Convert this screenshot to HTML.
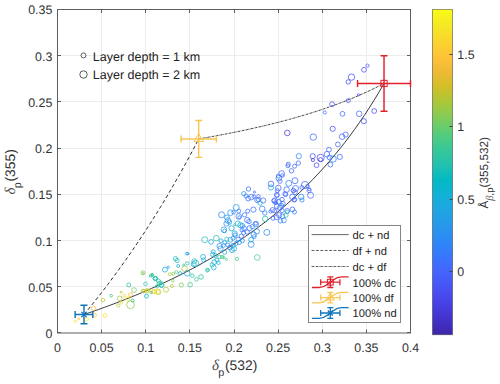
<!DOCTYPE html>
<html><head><meta charset="utf-8"><title>chart</title><style>html,body{margin:0;padding:0;background:#fff;overflow:hidden}svg{display:block;position:absolute;left:0;top:0}</style></head><body>
<svg width="500" height="384" viewBox="0 0 500 384" font-family="Liberation Sans, sans-serif" text-rendering="geometricPrecision">
<defs><linearGradient id="cb" x1="0" y1="1" x2="0" y2="0">
<stop offset="0.0000" stop-color="#3e26a8"/>
<stop offset="0.0476" stop-color="#4332cb"/>
<stop offset="0.0952" stop-color="#4741e5"/>
<stop offset="0.1429" stop-color="#4852f4"/>
<stop offset="0.1905" stop-color="#4563fd"/>
<stop offset="0.2381" stop-color="#3875fe"/>
<stop offset="0.2857" stop-color="#2e87f7"/>
<stop offset="0.3333" stop-color="#2797eb"/>
<stop offset="0.3810" stop-color="#20a5e3"/>
<stop offset="0.4286" stop-color="#12b1d6"/>
<stop offset="0.4762" stop-color="#02bac3"/>
<stop offset="0.5238" stop-color="#24c1ae"/>
<stop offset="0.5714" stop-color="#37c897"/>
<stop offset="0.6190" stop-color="#57cc7a"/>
<stop offset="0.6667" stop-color="#81cc59"/>
<stop offset="0.7143" stop-color="#abc739"/>
<stop offset="0.7619" stop-color="#d1bf27"/>
<stop offset="0.8095" stop-color="#f0ba36"/>
<stop offset="0.8571" stop-color="#fec338"/>
<stop offset="0.9048" stop-color="#fad62d"/>
<stop offset="0.9524" stop-color="#f5e924"/>
<stop offset="1.0000" stop-color="#f9fb15"/>
<stop offset="1" stop-color="#f9fb15"/>
</linearGradient><clipPath id="ax"><rect x="57.5" y="9.5" width="353.0" height="323.5"/></clipPath></defs>
<rect width="500" height="384" fill="#fff"/>
<line x1="101.5" y1="9.5" x2="101.5" y2="333.0" stroke="#ececec" stroke-width="1"/>
<line x1="145.5" y1="9.5" x2="145.5" y2="333.0" stroke="#ececec" stroke-width="1"/>
<line x1="189.5" y1="9.5" x2="189.5" y2="333.0" stroke="#ececec" stroke-width="1"/>
<line x1="234.5" y1="9.5" x2="234.5" y2="333.0" stroke="#ececec" stroke-width="1"/>
<line x1="278.5" y1="9.5" x2="278.5" y2="333.0" stroke="#ececec" stroke-width="1"/>
<line x1="322.5" y1="9.5" x2="322.5" y2="333.0" stroke="#ececec" stroke-width="1"/>
<line x1="366.5" y1="9.5" x2="366.5" y2="333.0" stroke="#ececec" stroke-width="1"/>
<line x1="57.5" y1="286.5" x2="410.5" y2="286.5" stroke="#ececec" stroke-width="1"/>
<line x1="57.5" y1="240.5" x2="410.5" y2="240.5" stroke="#ececec" stroke-width="1"/>
<line x1="57.5" y1="194.5" x2="410.5" y2="194.5" stroke="#ececec" stroke-width="1"/>
<line x1="57.5" y1="148.5" x2="410.5" y2="148.5" stroke="#ececec" stroke-width="1"/>
<line x1="57.5" y1="101.5" x2="410.5" y2="101.5" stroke="#ececec" stroke-width="1"/>
<line x1="57.5" y1="55.5" x2="410.5" y2="55.5" stroke="#ececec" stroke-width="1"/>
<g clip-path="url(#ax)" fill="none">
<path d="M83.97 314.51 L86.84 313.54 L89.72 312.55 L92.62 311.55 L95.54 310.53 L98.48 309.48 L101.44 308.43 L104.41 307.35 L107.41 306.25 L110.42 305.13 L113.46 303.99 L116.51 302.83 L119.58 301.65 L122.68 300.44 L125.79 299.21 L128.93 297.96 L132.08 296.68 L135.26 295.38 L138.45 294.05 L141.67 292.69 L144.91 291.31 L148.18 289.90 L151.46 288.46 L154.77 286.99 L158.10 285.48 L161.45 283.95 L164.82 282.38 L168.22 280.77 L171.64 279.14 L175.09 277.46 L178.55 275.74 L182.05 273.99 L185.56 272.20 L189.11 270.36 L192.67 268.48 L196.26 266.55 L199.88 264.58 L203.52 262.56 L207.19 260.48 L210.89 258.36 L214.61 256.18 L218.36 253.94 L222.14 251.64 L225.94 249.29 L229.77 246.86 L233.63 244.38 L237.52 241.82 L241.43 239.19 L245.38 236.48 L249.35 233.70 L253.36 230.83 L257.39 227.88 L261.45 224.84 L265.55 221.71 L269.67 218.47 L273.83 215.14 L278.02 211.69 L282.24 208.13 L286.49 204.46 L290.78 200.65 L295.10 196.72 L299.45 192.65 L303.84 188.43 L308.26 184.06 L312.72 179.52 L317.21 174.82 L321.73 169.93 L326.30 164.85 L330.90 159.56 L335.53 154.06 L340.21 148.33 L344.92 142.35 L349.67 136.11 L354.46 129.60 L359.28 122.78 L364.15 115.65 L369.06 108.18 L374.01 100.34 L378.99 92.10 L384.02 83.44" stroke="#222" stroke-width="0.9"/>
<path d="M83.97 314.51 L85.27 312.95 L86.56 311.38 L87.86 309.79 L89.16 308.20 L90.47 306.59 L91.78 304.96 L93.09 303.33 L94.41 301.68 L95.73 300.02 L97.06 298.35 L98.38 296.66 L99.72 294.96 L101.05 293.24 L102.39 291.52 L103.74 289.77 L105.09 288.02 L106.44 286.25 L107.79 284.46 L109.15 282.66 L110.52 280.85 L111.89 279.02 L113.26 277.17 L114.63 275.31 L116.01 273.44 L117.40 271.55 L118.79 269.64 L120.18 267.72 L121.57 265.78 L122.97 263.82 L124.38 261.85 L125.79 259.86 L127.20 257.85 L128.62 255.83 L130.04 253.78 L131.46 251.72 L132.89 249.64 L134.33 247.55 L135.77 245.43 L137.21 243.30 L138.66 241.14 L140.11 238.97 L141.56 236.78 L143.02 234.57 L144.49 232.33 L145.96 230.08 L147.43 227.81 L148.91 225.51 L150.39 223.19 L151.88 220.86 L153.37 218.50 L154.87 216.11 L156.37 213.71 L157.87 211.28 L159.38 208.83 L160.90 206.36 L162.42 203.86 L163.94 201.33 L165.47 198.79 L167.00 196.21 L168.54 193.62 L170.08 190.99 L171.63 188.34 L173.18 185.67 L174.74 182.97 L176.30 180.24 L177.87 177.48 L179.44 174.69 L181.02 171.88 L182.60 169.03 L184.19 166.16 L185.78 163.26 L187.38 160.33 L188.98 157.36 L190.59 154.37 L192.20 151.34 L193.82 148.28 L195.44 145.19 L197.07 142.06 L198.70 138.90" stroke="#1a1a1a" stroke-width="0.95" stroke-dasharray="3.6 2.6"/>
<path d="M198.70 138.90 L200.69 138.56 L202.69 138.22 L204.69 137.87 L206.71 137.51 L208.73 137.15 L210.76 136.79 L212.80 136.42 L214.84 136.05 L216.89 135.67 L218.96 135.29 L221.03 134.90 L223.10 134.50 L225.19 134.10 L227.28 133.69 L229.39 133.28 L231.50 132.86 L233.62 132.44 L235.75 132.01 L237.88 131.57 L240.03 131.12 L242.18 130.67 L244.35 130.21 L246.52 129.75 L248.70 129.28 L250.89 128.80 L253.09 128.31 L255.29 127.82 L257.51 127.31 L259.74 126.80 L261.97 126.28 L264.22 125.75 L266.47 125.22 L268.73 124.67 L271.00 124.12 L273.29 123.55 L275.58 122.98 L277.88 122.39 L280.19 121.80 L282.51 121.19 L284.84 120.58 L287.18 119.95 L289.53 119.31 L291.89 118.66 L294.25 118.00 L296.63 117.32 L299.02 116.64 L301.42 115.94 L303.83 115.22 L306.25 114.50 L308.69 113.76 L311.13 113.00 L313.58 112.23 L316.04 111.44 L318.51 110.64 L321.00 109.82 L323.49 108.98 L326.00 108.13 L328.51 107.26 L331.04 106.37 L333.58 105.46 L336.13 104.53 L338.69 103.57 L341.26 102.60 L343.85 101.61 L346.44 100.59 L349.05 99.55 L351.67 98.49 L354.30 97.40 L356.94 96.28 L359.59 95.14 L362.26 93.97 L364.94 92.77 L367.63 91.53 L370.33 90.27 L373.04 88.98 L375.77 87.65 L378.51 86.28 L381.26 84.88 L384.02 83.44" stroke="#1a1a1a" stroke-width="0.85" stroke-dasharray="2.4 0.7 0.6 0.7"/>
<circle cx="75.3" cy="321.3" r="1.1" stroke="#f5e825" stroke-width="0.75"/>
<circle cx="78.8" cy="318.8" r="1.0" stroke="#fdcc32" stroke-width="0.75"/>
<circle cx="86.5" cy="319.2" r="1.8" stroke="#f5e825" stroke-width="0.75"/>
<circle cx="93.4" cy="308.2" r="2.2" stroke="#fabb3d" stroke-width="0.75"/>
<circle cx="94.7" cy="315.1" r="1.8" stroke="#fdcc32" stroke-width="0.75"/>
<circle cx="104.9" cy="315.5" r="2.0" stroke="#f5e825" stroke-width="0.75"/>
<circle cx="103.0" cy="300.1" r="1.8" stroke="#b9c431" stroke-width="0.75"/>
<circle cx="111.1" cy="295.7" r="1.4" stroke="#41ca8c" stroke-width="0.75"/>
<circle cx="119.7" cy="298.4" r="2.4" stroke="#96ca48" stroke-width="0.75"/>
<circle cx="121.1" cy="292.2" r="1.0" stroke="#b9c431" stroke-width="0.75"/>
<circle cx="124.2" cy="295.7" r="1.4" stroke="#fdcc32" stroke-width="0.75"/>
<circle cx="118.4" cy="305.5" r="1.6" stroke="#b9c431" stroke-width="0.75"/>
<circle cx="121.5" cy="302.6" r="1.4" stroke="#f5e825" stroke-width="0.75"/>
<circle cx="130.5" cy="304.7" r="3.9" stroke="#96ca48" stroke-width="0.75"/>
<circle cx="128.8" cy="284.9" r="2.0" stroke="#27c2ac" stroke-width="0.75"/>
<circle cx="134.0" cy="290.1" r="2.4" stroke="#7acc5d" stroke-width="0.75"/>
<circle cx="130.5" cy="294.7" r="2.0" stroke="#fabb3d" stroke-width="0.75"/>
<circle cx="127.8" cy="298.8" r="2.0" stroke="#f5e825" stroke-width="0.75"/>
<circle cx="132.6" cy="300.5" r="1.6" stroke="#27c2ac" stroke-width="0.75"/>
<circle cx="143.0" cy="272.8" r="2.0" stroke="#7acc5d" stroke-width="0.75"/>
<circle cx="143.0" cy="273.4" r="1.0" stroke="#7acc5d" stroke-width="0.75"/>
<circle cx="145.5" cy="283.8" r="1.8" stroke="#27c2ac" stroke-width="0.75"/>
<circle cx="143.8" cy="291.1" r="1.8" stroke="#b9c431" stroke-width="0.75"/>
<circle cx="147.6" cy="290.1" r="1.6" stroke="#f5e825" stroke-width="0.75"/>
<circle cx="146.5" cy="296.1" r="2.0" stroke="#01b9c6" stroke-width="0.75"/>
<circle cx="150.7" cy="275.9" r="1.4" stroke="#27c2ac" stroke-width="0.75"/>
<circle cx="152.4" cy="274.9" r="1.1" stroke="#27c2ac" stroke-width="0.75"/>
<circle cx="155.5" cy="278.4" r="2.0" stroke="#15afd9" stroke-width="0.75"/>
<circle cx="154.2" cy="291.5" r="2.2" stroke="#fdcc32" stroke-width="0.75"/>
<circle cx="150.7" cy="291.5" r="1.4" stroke="#f5e825" stroke-width="0.75"/>
<circle cx="157.0" cy="286.3" r="1.6" stroke="#27c2ac" stroke-width="0.75"/>
<circle cx="151.8" cy="275.1" r="1.4" stroke="#41ca8c" stroke-width="0.75"/>
<circle cx="155.5" cy="278.7" r="2.1" stroke="#27c2ac" stroke-width="0.75"/>
<circle cx="159.1" cy="283.3" r="2.1" stroke="#41ca8c" stroke-width="0.75"/>
<circle cx="161.3" cy="285.1" r="2.1" stroke="#15afd9" stroke-width="0.75"/>
<circle cx="166.0" cy="289.7" r="2.5" stroke="#b9c431" stroke-width="0.75"/>
<circle cx="157.3" cy="291.5" r="2.5" stroke="#f5e825" stroke-width="0.75"/>
<circle cx="153.6" cy="292.0" r="1.7" stroke="#fdcc32" stroke-width="0.75"/>
<circle cx="171.9" cy="286.0" r="1.5" stroke="#b9c431" stroke-width="0.75"/>
<circle cx="172.8" cy="280.6" r="1.4" stroke="#7acc5d" stroke-width="0.75"/>
<circle cx="164.9" cy="269.6" r="2.5" stroke="#15afd9" stroke-width="0.75"/>
<circle cx="168.2" cy="267.3" r="1.2" stroke="#2895ec" stroke-width="0.75"/>
<circle cx="169.7" cy="274.2" r="1.5" stroke="#b9c431" stroke-width="0.75"/>
<circle cx="173.3" cy="273.8" r="1.5" stroke="#7acc5d" stroke-width="0.75"/>
<circle cx="176.4" cy="272.0" r="1.5" stroke="#7acc5d" stroke-width="0.75"/>
<circle cx="175.5" cy="258.7" r="2.1" stroke="#01b9c6" stroke-width="0.75"/>
<circle cx="177.0" cy="260.5" r="2.1" stroke="#27c2ac" stroke-width="0.75"/>
<circle cx="178.2" cy="266.0" r="1.5" stroke="#15afd9" stroke-width="0.75"/>
<circle cx="180.1" cy="273.3" r="1.7" stroke="#15afd9" stroke-width="0.75"/>
<circle cx="181.3" cy="285.1" r="2.1" stroke="#7acc5d" stroke-width="0.75"/>
<circle cx="184.6" cy="268.7" r="2.8" stroke="#b9c431" stroke-width="0.75"/>
<circle cx="183.7" cy="265.1" r="1.0" stroke="#27c2ac" stroke-width="0.75"/>
<circle cx="187.3" cy="263.3" r="1.7" stroke="#27c2ac" stroke-width="0.75"/>
<circle cx="187.0" cy="253.6" r="1.4" stroke="#2895ec" stroke-width="0.75"/>
<circle cx="187.3" cy="273.3" r="2.8" stroke="#15afd9" stroke-width="0.75"/>
<circle cx="190.1" cy="284.7" r="2.3" stroke="#41ca8c" stroke-width="0.75"/>
<circle cx="192.3" cy="275.6" r="1.7" stroke="#27c2ac" stroke-width="0.75"/>
<circle cx="193.7" cy="264.2" r="2.5" stroke="#15afd9" stroke-width="0.75"/>
<circle cx="195.5" cy="263.3" r="3.2" stroke="#15afd9" stroke-width="0.75"/>
<circle cx="196.4" cy="279.3" r="1.9" stroke="#41ca8c" stroke-width="0.75"/>
<circle cx="201.0" cy="276.9" r="2.3" stroke="#27c2ac" stroke-width="0.75"/>
<circle cx="207.4" cy="270.2" r="1.9" stroke="#27c2ac" stroke-width="0.75"/>
<circle cx="287.3" cy="132.9" r="2.8" stroke="#4539d9" stroke-width="0.75"/>
<circle cx="313.3" cy="137.1" r="3.2" stroke="#4369fe" stroke-width="0.75"/>
<circle cx="324.8" cy="112.5" r="1.6" stroke="#4369fe" stroke-width="0.75"/>
<circle cx="342.5" cy="113.8" r="2.4" stroke="#4369fe" stroke-width="0.75"/>
<circle cx="359.2" cy="113.8" r="2.8" stroke="#4369fe" stroke-width="0.75"/>
<circle cx="332.7" cy="128.8" r="2.6" stroke="#484ef1" stroke-width="0.75"/>
<circle cx="345.6" cy="134.6" r="2.6" stroke="#4369fe" stroke-width="0.75"/>
<circle cx="342.1" cy="136.7" r="2.8" stroke="#4369fe" stroke-width="0.75"/>
<circle cx="337.9" cy="144.4" r="2.4" stroke="#4369fe" stroke-width="0.75"/>
<circle cx="329.0" cy="149.6" r="2.4" stroke="#4369fe" stroke-width="0.75"/>
<circle cx="326.9" cy="154.2" r="2.8" stroke="#4369fe" stroke-width="0.75"/>
<circle cx="320.6" cy="157.9" r="3.6" stroke="#484ef1" stroke-width="0.75"/>
<circle cx="320.6" cy="159.6" r="2.0" stroke="#4539d9" stroke-width="0.75"/>
<circle cx="312.7" cy="156.2" r="2.6" stroke="#484ef1" stroke-width="0.75"/>
<circle cx="312.9" cy="160.0" r="1.6" stroke="#4539d9" stroke-width="0.75"/>
<circle cx="316.5" cy="165.2" r="2.4" stroke="#484ef1" stroke-width="0.75"/>
<circle cx="329.6" cy="157.5" r="2.4" stroke="#4369fe" stroke-width="0.75"/>
<circle cx="333.1" cy="159.0" r="3.2" stroke="#2e85f8" stroke-width="0.75"/>
<circle cx="330.4" cy="164.6" r="2.4" stroke="#4369fe" stroke-width="0.75"/>
<circle cx="339.8" cy="156.9" r="2.6" stroke="#4369fe" stroke-width="0.75"/>
<circle cx="298.8" cy="156.2" r="2.6" stroke="#2e85f8" stroke-width="0.75"/>
<circle cx="298.3" cy="163.1" r="2.2" stroke="#4369fe" stroke-width="0.75"/>
<circle cx="294.6" cy="166.2" r="2.0" stroke="#4369fe" stroke-width="0.75"/>
<circle cx="288.3" cy="164.2" r="2.0" stroke="#4369fe" stroke-width="0.75"/>
<circle cx="287.9" cy="165.8" r="2.0" stroke="#4369fe" stroke-width="0.75"/>
<circle cx="291.5" cy="170.8" r="2.2" stroke="#4369fe" stroke-width="0.75"/>
<circle cx="281.7" cy="173.5" r="2.8" stroke="#4369fe" stroke-width="0.75"/>
<circle cx="305.0" cy="185.0" r="3.6" stroke="#4369fe" stroke-width="0.75"/>
<circle cx="301.9" cy="187.5" r="2.0" stroke="#4369fe" stroke-width="0.75"/>
<circle cx="309.2" cy="189.2" r="1.6" stroke="#4369fe" stroke-width="0.75"/>
<circle cx="367.5" cy="65.6" r="1.6" stroke="#484ef1" stroke-width="0.75"/>
<circle cx="364.0" cy="69.8" r="2.4" stroke="#484ef1" stroke-width="0.75"/>
<circle cx="351.5" cy="77.1" r="3.2" stroke="#484ef1" stroke-width="0.75"/>
<circle cx="348.3" cy="81.9" r="2.2" stroke="#484ef1" stroke-width="0.75"/>
<circle cx="358.5" cy="94.8" r="1.1" stroke="#484ef1" stroke-width="0.75"/>
<circle cx="348.3" cy="100.6" r="2.0" stroke="#484ef1" stroke-width="0.75"/>
<circle cx="332.1" cy="104.2" r="2.4" stroke="#484ef1" stroke-width="0.75"/>
<circle cx="363.8" cy="121.2" r="2.6" stroke="#484ef1" stroke-width="0.75"/>
<circle cx="374.2" cy="111.0" r="2.4" stroke="#484ef1" stroke-width="0.75"/>
<circle cx="257.3" cy="257.5" r="2.8" stroke="#41ca8c" stroke-width="0.75"/>
<circle cx="221.6" cy="214.8" r="3.0" stroke="#2e87f7" stroke-width="0.75"/>
<circle cx="236.2" cy="207.5" r="3.0" stroke="#2896eb" stroke-width="0.75"/>
<circle cx="230.5" cy="212.7" r="2.8" stroke="#2699e9" stroke-width="0.75"/>
<circle cx="233.6" cy="212.2" r="1.8" stroke="#307efb" stroke-width="0.75"/>
<circle cx="238.8" cy="211.1" r="2.0" stroke="#337bfd" stroke-width="0.75"/>
<circle cx="226.9" cy="217.4" r="2.4" stroke="#259ce7" stroke-width="0.75"/>
<circle cx="227.9" cy="220.5" r="2.8" stroke="#259be8" stroke-width="0.75"/>
<circle cx="229.5" cy="222.1" r="2.2" stroke="#269ae8" stroke-width="0.75"/>
<circle cx="238.8" cy="216.4" r="2.8" stroke="#337bfd" stroke-width="0.75"/>
<circle cx="239.4" cy="217.4" r="1.6" stroke="#337afd" stroke-width="0.75"/>
<circle cx="244.6" cy="214.8" r="2.2" stroke="#3876fe" stroke-width="0.75"/>
<circle cx="247.7" cy="211.1" r="2.0" stroke="#3a74fe" stroke-width="0.75"/>
<circle cx="253.4" cy="209.6" r="2.6" stroke="#3e6fff" stroke-width="0.75"/>
<circle cx="251.3" cy="197.1" r="2.8" stroke="#3d71ff" stroke-width="0.75"/>
<circle cx="248.2" cy="198.6" r="2.4" stroke="#3a73fe" stroke-width="0.75"/>
<circle cx="246.1" cy="196.0" r="2.0" stroke="#3975fe" stroke-width="0.75"/>
<circle cx="257.1" cy="200.2" r="2.4" stroke="#406cfe" stroke-width="0.75"/>
<circle cx="253.9" cy="196.6" r="1.8" stroke="#3f6fff" stroke-width="0.75"/>
<circle cx="247.2" cy="220.0" r="2.6" stroke="#3a74fe" stroke-width="0.75"/>
<circle cx="237.8" cy="223.6" r="2.6" stroke="#15afd9" stroke-width="0.75"/>
<circle cx="240.4" cy="225.2" r="2.6" stroke="#01b9c6" stroke-width="0.75"/>
<circle cx="242.5" cy="225.7" r="2.2" stroke="#2895ec" stroke-width="0.75"/>
<circle cx="234.7" cy="224.7" r="1.1" stroke="#27c2ac" stroke-width="0.75"/>
<circle cx="231.5" cy="228.3" r="2.6" stroke="#15afd9" stroke-width="0.75"/>
<circle cx="244.0" cy="228.3" r="2.4" stroke="#3776fe" stroke-width="0.75"/>
<circle cx="242.0" cy="229.9" r="2.0" stroke="#3678fd" stroke-width="0.75"/>
<circle cx="247.2" cy="232.0" r="2.2" stroke="#3a74fe" stroke-width="0.75"/>
<circle cx="234.7" cy="233.5" r="2.6" stroke="#15afd9" stroke-width="0.75"/>
<circle cx="243.5" cy="233.0" r="2.0" stroke="#3777fe" stroke-width="0.75"/>
<circle cx="271.0" cy="183.9" r="2.8" stroke="#4369fe" stroke-width="0.75"/>
<circle cx="271.0" cy="187.5" r="2.6" stroke="#15afd9" stroke-width="0.75"/>
<circle cx="278.8" cy="178.1" r="2.8" stroke="#4369fe" stroke-width="0.75"/>
<circle cx="279.9" cy="181.2" r="2.2" stroke="#4369fe" stroke-width="0.75"/>
<circle cx="278.3" cy="176.0" r="2.0" stroke="#2e85f8" stroke-width="0.75"/>
<circle cx="282.5" cy="175.5" r="1.8" stroke="#4369fe" stroke-width="0.75"/>
<circle cx="288.7" cy="183.3" r="3.0" stroke="#2e85f8" stroke-width="0.75"/>
<circle cx="295.0" cy="180.7" r="3.0" stroke="#4369fe" stroke-width="0.75"/>
<circle cx="295.5" cy="188.5" r="3.0" stroke="#4369fe" stroke-width="0.75"/>
<circle cx="293.4" cy="190.6" r="2.2" stroke="#484ef1" stroke-width="0.75"/>
<circle cx="286.6" cy="189.6" r="2.8" stroke="#4369fe" stroke-width="0.75"/>
<circle cx="278.3" cy="188.0" r="2.8" stroke="#4369fe" stroke-width="0.75"/>
<circle cx="277.3" cy="190.6" r="2.0" stroke="#4369fe" stroke-width="0.75"/>
<circle cx="276.8" cy="194.8" r="2.4" stroke="#4369fe" stroke-width="0.75"/>
<circle cx="285.1" cy="193.8" r="2.2" stroke="#4369fe" stroke-width="0.75"/>
<circle cx="292.4" cy="196.9" r="2.8" stroke="#4369fe" stroke-width="0.75"/>
<circle cx="294.5" cy="199.5" r="2.2" stroke="#4369fe" stroke-width="0.75"/>
<circle cx="258.5" cy="196.4" r="1.8" stroke="#416bfe" stroke-width="0.75"/>
<circle cx="258.5" cy="199.5" r="2.2" stroke="#416bfe" stroke-width="0.75"/>
<circle cx="263.2" cy="200.5" r="2.6" stroke="#4369fe" stroke-width="0.75"/>
<circle cx="260.1" cy="203.1" r="2.2" stroke="#15afd9" stroke-width="0.75"/>
<circle cx="262.2" cy="208.9" r="2.8" stroke="#2e85f8" stroke-width="0.75"/>
<circle cx="264.8" cy="213.0" r="2.2" stroke="#2e85f8" stroke-width="0.75"/>
<circle cx="274.7" cy="200.5" r="2.6" stroke="#4369fe" stroke-width="0.75"/>
<circle cx="275.2" cy="202.6" r="1.8" stroke="#484ef1" stroke-width="0.75"/>
<circle cx="278.8" cy="201.6" r="2.4" stroke="#4369fe" stroke-width="0.75"/>
<circle cx="282.0" cy="199.5" r="2.2" stroke="#4369fe" stroke-width="0.75"/>
<circle cx="283.0" cy="203.6" r="2.2" stroke="#4369fe" stroke-width="0.75"/>
<circle cx="276.8" cy="206.2" r="2.4" stroke="#4369fe" stroke-width="0.75"/>
<circle cx="279.9" cy="207.8" r="2.6" stroke="#4369fe" stroke-width="0.75"/>
<circle cx="272.6" cy="209.9" r="2.4" stroke="#4369fe" stroke-width="0.75"/>
<circle cx="274.7" cy="210.9" r="2.0" stroke="#4369fe" stroke-width="0.75"/>
<circle cx="282.0" cy="210.4" r="2.2" stroke="#4369fe" stroke-width="0.75"/>
<circle cx="287.2" cy="210.9" r="2.4" stroke="#4369fe" stroke-width="0.75"/>
<circle cx="292.4" cy="209.4" r="2.4" stroke="#4369fe" stroke-width="0.75"/>
<circle cx="287.2" cy="212.0" r="1.8" stroke="#27c2ac" stroke-width="0.75"/>
<circle cx="294.5" cy="212.0" r="2.0" stroke="#2e85f8" stroke-width="0.75"/>
<circle cx="270.5" cy="211.5" r="1.6" stroke="#4369fe" stroke-width="0.75"/>
<circle cx="216.3" cy="238.2" r="2.8" stroke="#27c2ac" stroke-width="0.75"/>
<circle cx="211.1" cy="241.9" r="2.4" stroke="#20a5e2" stroke-width="0.75"/>
<circle cx="221.0" cy="240.8" r="2.0" stroke="#249fe5" stroke-width="0.75"/>
<circle cx="226.8" cy="239.3" r="2.0" stroke="#27c2ac" stroke-width="0.75"/>
<circle cx="230.4" cy="239.8" r="2.4" stroke="#2699e9" stroke-width="0.75"/>
<circle cx="233.0" cy="238.2" r="2.0" stroke="#2798ea" stroke-width="0.75"/>
<circle cx="235.1" cy="235.1" r="2.2" stroke="#317dfc" stroke-width="0.75"/>
<circle cx="238.2" cy="239.3" r="2.2" stroke="#337bfc" stroke-width="0.75"/>
<circle cx="241.3" cy="236.1" r="2.2" stroke="#3579fd" stroke-width="0.75"/>
<circle cx="242.4" cy="240.8" r="2.0" stroke="#2b92ee" stroke-width="0.75"/>
<circle cx="239.2" cy="242.4" r="2.2" stroke="#2994ed" stroke-width="0.75"/>
<circle cx="224.7" cy="242.4" r="1.8" stroke="#15afd9" stroke-width="0.75"/>
<circle cx="219.5" cy="246.0" r="2.6" stroke="#2d88f6" stroke-width="0.75"/>
<circle cx="220.5" cy="248.6" r="2.6" stroke="#239fe5" stroke-width="0.75"/>
<circle cx="223.6" cy="245.5" r="1.8" stroke="#2e86f8" stroke-width="0.75"/>
<circle cx="227.8" cy="245.0" r="2.0" stroke="#2e83f9" stroke-width="0.75"/>
<circle cx="229.9" cy="247.6" r="2.4" stroke="#2f81fa" stroke-width="0.75"/>
<circle cx="233.0" cy="245.5" r="2.2" stroke="#2798ea" stroke-width="0.75"/>
<circle cx="234.0" cy="248.6" r="2.6" stroke="#15afd9" stroke-width="0.75"/>
<circle cx="232.0" cy="250.2" r="2.4" stroke="#15afd9" stroke-width="0.75"/>
<circle cx="236.1" cy="243.4" r="2.0" stroke="#2896eb" stroke-width="0.75"/>
<circle cx="224.7" cy="252.3" r="2.0" stroke="#259de7" stroke-width="0.75"/>
<circle cx="213.2" cy="251.8" r="2.0" stroke="#15afd9" stroke-width="0.75"/>
<circle cx="212.7" cy="254.4" r="2.2" stroke="#15afd9" stroke-width="0.75"/>
<circle cx="215.3" cy="255.4" r="2.0" stroke="#15afd9" stroke-width="0.75"/>
<circle cx="219.5" cy="257.0" r="1.8" stroke="#41ca8c" stroke-width="0.75"/>
<circle cx="222.1" cy="257.0" r="1.6" stroke="#41ca8c" stroke-width="0.75"/>
<circle cx="223.6" cy="257.5" r="1.4" stroke="#41ca8c" stroke-width="0.75"/>
<circle cx="226.5" cy="259.4" r="1.1" stroke="#41ca8c" stroke-width="0.75"/>
<circle cx="237.0" cy="258.9" r="1.6" stroke="#41ca8c" stroke-width="0.75"/>
<circle cx="216.9" cy="260.1" r="2.0" stroke="#15afd9" stroke-width="0.75"/>
<circle cx="214.2" cy="262.2" r="2.4" stroke="#15afd9" stroke-width="0.75"/>
<circle cx="218.4" cy="262.7" r="1.8" stroke="#15afd9" stroke-width="0.75"/>
<circle cx="212.2" cy="264.8" r="2.2" stroke="#27c2ac" stroke-width="0.75"/>
<circle cx="213.7" cy="267.4" r="2.4" stroke="#15afd9" stroke-width="0.75"/>
<circle cx="208.0" cy="270.0" r="1.4" stroke="#27c2ac" stroke-width="0.75"/>
<circle cx="266.8" cy="232.4" r="3.0" stroke="#2e85f8" stroke-width="0.75"/>
<circle cx="265.2" cy="218.9" r="2.8" stroke="#27c2ac" stroke-width="0.75"/>
<circle cx="255.8" cy="224.1" r="2.8" stroke="#2895ec" stroke-width="0.75"/>
<circle cx="255.8" cy="223.5" r="1.8" stroke="#484ef1" stroke-width="0.75"/>
<circle cx="249.0" cy="221.5" r="2.2" stroke="#3b73fe" stroke-width="0.75"/>
<circle cx="249.6" cy="228.2" r="2.6" stroke="#3b72ff" stroke-width="0.75"/>
<circle cx="252.2" cy="226.7" r="2.2" stroke="#2d8cf3" stroke-width="0.75"/>
<circle cx="256.9" cy="231.4" r="2.6" stroke="#2d88f6" stroke-width="0.75"/>
<circle cx="253.7" cy="234.5" r="2.6" stroke="#2d8bf4" stroke-width="0.75"/>
<circle cx="251.1" cy="239.7" r="2.4" stroke="#15afd9" stroke-width="0.75"/>
<circle cx="251.1" cy="244.4" r="3.0" stroke="#2d8cf3" stroke-width="0.75"/>
<circle cx="254.2" cy="236.6" r="2.0" stroke="#2d8af4" stroke-width="0.75"/>
<circle cx="273.0" cy="218.3" r="2.0" stroke="#4369fe" stroke-width="0.75"/>
<circle cx="276.6" cy="217.3" r="2.4" stroke="#4369fe" stroke-width="0.75"/>
<circle cx="279.2" cy="215.2" r="2.6" stroke="#4369fe" stroke-width="0.75"/>
<circle cx="282.4" cy="216.2" r="2.4" stroke="#4369fe" stroke-width="0.75"/>
<circle cx="280.3" cy="220.9" r="2.2" stroke="#2e85f8" stroke-width="0.75"/>
<circle cx="283.9" cy="220.4" r="2.4" stroke="#2e85f8" stroke-width="0.75"/>
<circle cx="286.0" cy="215.2" r="2.2" stroke="#27c2ac" stroke-width="0.75"/>
<circle cx="248.5" cy="189.0" r="2.2" stroke="#3b73fe" stroke-width="0.75"/>
<circle cx="243.8" cy="193.7" r="2.2" stroke="#2b91ef" stroke-width="0.75"/>
<circle cx="254.4" cy="192.1" r="1.1" stroke="#3f6eff" stroke-width="0.75"/>
<circle cx="204.7" cy="239.7" r="3.0" stroke="#27c2ac" stroke-width="0.75"/>
<circle cx="203.1" cy="256.9" r="2.4" stroke="#1ca9df" stroke-width="0.75"/>
<circle cx="203.6" cy="260.0" r="2.0" stroke="#15afd9" stroke-width="0.75"/>
<circle cx="194.2" cy="261.1" r="2.4" stroke="#27c2ac" stroke-width="0.75"/>
<circle cx="188.0" cy="253.8" r="1.0" stroke="#15afd9" stroke-width="0.75"/>
<circle cx="223.9" cy="229.8" r="2.8" stroke="#249de6" stroke-width="0.75"/>
<circle cx="224.5" cy="230.9" r="1.8" stroke="#249de7" stroke-width="0.75"/>
<circle cx="226.5" cy="223.6" r="2.6" stroke="#2e83f9" stroke-width="0.75"/>
<circle cx="155.0" cy="278.3" r="2.0" stroke="#27c2ac" stroke-width="0.75"/>
<circle cx="158.5" cy="281.0" r="2.0" stroke="#27c2ac" stroke-width="0.75"/>
<circle cx="160.6" cy="283.1" r="2.0" stroke="#41ca8c" stroke-width="0.75"/>
<circle cx="161.7" cy="285.2" r="2.4" stroke="#27c2ac" stroke-width="0.75"/>
<circle cx="152.3" cy="274.8" r="1.4" stroke="#41ca8c" stroke-width="0.75"/>
<circle cx="147.1" cy="290.8" r="2.0" stroke="#b9c431" stroke-width="0.75"/>
<circle cx="151.2" cy="292.5" r="1.1" stroke="#27c2ac" stroke-width="0.75"/>
<circle cx="142.9" cy="290.8" r="1.6" stroke="#b9c431" stroke-width="0.75"/>
<circle cx="158.5" cy="292.1" r="2.4" stroke="#b9c431" stroke-width="0.75"/>
<circle cx="310.6" cy="195.3" r="3.0" stroke="#4369fe" stroke-width="0.75"/>
<circle cx="309.1" cy="190.6" r="2.1" stroke="#4369fe" stroke-width="0.75"/>
<circle cx="301.2" cy="196.9" r="2.7" stroke="#2e85f8" stroke-width="0.75"/>
<circle cx="302.0" cy="200.0" r="2.1" stroke="#2e85f8" stroke-width="0.75"/>
<circle cx="295.0" cy="192.2" r="2.4" stroke="#4369fe" stroke-width="0.75"/>
<circle cx="294.2" cy="200.0" r="2.1" stroke="#4369fe" stroke-width="0.75"/>
<circle cx="307.5" cy="186.2" r="1.8" stroke="#4369fe" stroke-width="0.75"/>
<circle cx="285.6" cy="194.5" r="2.1" stroke="#4369fe" stroke-width="0.75"/>
<circle cx="277.0" cy="195.3" r="2.1" stroke="#4369fe" stroke-width="0.75"/>
<circle cx="273.9" cy="200.8" r="2.1" stroke="#4369fe" stroke-width="0.75"/>
<circle cx="276.2" cy="203.1" r="1.5" stroke="#2e85f8" stroke-width="0.75"/>
<circle cx="281.7" cy="205.5" r="2.1" stroke="#2e85f8" stroke-width="0.75"/>
</g>
<rect x="57.5" y="9.5" width="353.0" height="323.5" fill="none" stroke="#5e5e5e" stroke-width="1"/>
<path d="M57.5 333.0 V329.5 M57.5 9.5 V13.0 M101.5 333.0 V329.5 M101.5 9.5 V13.0 M145.5 333.0 V329.5 M145.5 9.5 V13.0 M189.5 333.0 V329.5 M189.5 9.5 V13.0 M234.5 333.0 V329.5 M234.5 9.5 V13.0 M278.5 333.0 V329.5 M278.5 9.5 V13.0 M322.5 333.0 V329.5 M322.5 9.5 V13.0 M366.5 333.0 V329.5 M366.5 9.5 V13.0 M410.5 333.0 V329.5 M410.5 9.5 V13.0 M57.5 332.5 H61.0 M410.5 332.5 H407.0 M57.5 286.5 H61.0 M410.5 286.5 H407.0 M57.5 240.5 H61.0 M410.5 240.5 H407.0 M57.5 194.5 H61.0 M410.5 194.5 H407.0 M57.5 148.5 H61.0 M410.5 148.5 H407.0 M57.5 101.5 H61.0 M410.5 101.5 H407.0 M57.5 55.5 H61.0 M410.5 55.5 H407.0 M57.5 9.5 H61.0 M410.5 9.5 H407.0 " stroke="#5e5e5e" stroke-width="1" fill="none"/>
<g stroke="#e0202a" stroke-width="1.45" fill="none"><path d="M357.55 83.44 H410.50 M357.55 79.94 V86.94 M410.50 79.94 V86.94"/><path d="M384.02 55.71 V111.17 M380.52 55.71 H387.52 M380.52 111.17 H387.52"/><rect x="380.92" y="80.34" width="6.20" height="6.20" stroke-width="1"/></g>
<g stroke="#f8c652" stroke-width="1.45" fill="none"><path d="M181.05 138.90 H216.35 M181.05 135.40 V142.40 M216.35 135.40 V142.40"/><path d="M198.70 120.41 V157.39 M195.20 120.41 H202.20 M195.20 157.39 H202.20"/><path d="M198.70 133.78 L203.29 141.50 L194.11 141.50 Z" stroke-width="1"/></g>
<g stroke="#1274ba" stroke-width="1.45" fill="none"><path d="M75.15 314.51 H92.80 M75.15 311.01 V318.01 M92.80 311.01 V318.01"/><path d="M83.97 305.27 V323.76 M80.47 305.27 H87.47 M80.47 323.76 H87.47"/><path d="M81.34 311.88 L86.61 317.15 M81.34 317.15 L86.61 311.88" stroke-width="1.3"/></g>
<g font-size="12.4" fill="#333333">
<text x="57.5" y="351.8" text-anchor="middle">0</text>
<text x="101.6" y="351.8" text-anchor="middle">0.05</text>
<text x="145.8" y="351.8" text-anchor="middle">0.1</text>
<text x="189.9" y="351.8" text-anchor="middle">0.15</text>
<text x="234.0" y="351.8" text-anchor="middle">0.2</text>
<text x="278.1" y="351.8" text-anchor="middle">0.25</text>
<text x="322.3" y="351.8" text-anchor="middle">0.3</text>
<text x="366.4" y="351.8" text-anchor="middle">0.35</text>
<text x="410.5" y="351.8" text-anchor="middle">0.4</text>
<text x="52.3" y="337.9" text-anchor="end">0</text>
<text x="52.3" y="291.7" text-anchor="end">0.05</text>
<text x="52.3" y="245.5" text-anchor="end">0.1</text>
<text x="52.3" y="199.3" text-anchor="end">0.15</text>
<text x="52.3" y="153.0" text-anchor="end">0.2</text>
<text x="52.3" y="106.8" text-anchor="end">0.25</text>
<text x="52.3" y="60.6" text-anchor="end">0.3</text>
<text x="52.3" y="14.4" text-anchor="end">0.35</text>
</g>
<g font-size="13.9" fill="#333333">
<text x="211.9" y="370.0"><tspan font-family="Liberation Serif, serif" font-style="italic" fill="#4a4a4a" font-size="15">&#948;</tspan><tspan dy="6.2" font-size="10.8" dx="-0.6">p</tspan><tspan dy="-6.2" dx="0.6">(532)</tspan></text>
<g transform="translate(15.2 194.6) rotate(-90)"><text x="0" y="0"><tspan font-family="Liberation Serif, serif" font-style="italic" fill="#4a4a4a" font-size="15">&#948;</tspan><tspan dy="6.2" font-size="10.8" dx="-0.6">p</tspan><tspan dy="-6.2" dx="0.6">(355)</tspan></text></g>
</g>
<g font-size="12.5" fill="#222">
<circle cx="83.5" cy="55.4" r="2.5" fill="none" stroke="#333" stroke-width="0.8"/>
<circle cx="83.5" cy="74.5" r="3.7" fill="none" stroke="#333" stroke-width="0.8"/>
<text x="92.8" y="60.6">Layer depth = 1 km</text>
<text x="92.8" y="79.4">Layer depth = 2 km</text>
</g>
<rect x="308.5" y="225.5" width="92" height="97" fill="#fff" stroke="#858585" stroke-width="1"/>
<g fill="none" stroke="#333" stroke-width="0.9">
<path d="M311.6 234.6 H348.6" stroke="#666" stroke-width="1"/>
<path d="M311.6 250.5 H348.6" stroke-dasharray="2.8 1.6" stroke-width="0.8"/>
<path d="M311.6 266.5 H348.6" stroke-dasharray="2.4 0.7 0.6 0.7" stroke-width="0.8"/>
</g>
<path d="M312 287.50 H319 C 325 287.50, 326.3 284.80, 330.30 282.20 C 334.3 279.60, 335.6 276.90, 341.6 276.90 H348.6" fill="none" stroke="#e0202a" stroke-width="1.3"/><g stroke="#e0202a" stroke-width="1.30" fill="none"><path d="M320.70 282.20 H339.90 M320.70 279.20 V285.20 M339.90 279.20 V285.20"/><path d="M330.30 276.90 V287.50 M327.30 276.90 H333.30 M327.30 287.50 H333.30"/><rect x="327.40" y="279.30" width="5.80" height="5.80" stroke-width="1"/></g>
<path d="M312 302.90 H319 C 325 302.90, 326.3 300.20, 330.30 297.60 C 334.3 295.00, 335.6 292.30, 341.6 292.30 H348.6" fill="none" stroke="#f8c652" stroke-width="1.3"/><g stroke="#f8c652" stroke-width="1.30" fill="none"><path d="M320.70 297.60 H339.90 M320.70 294.60 V300.60 M339.90 294.60 V300.60"/><path d="M330.30 292.30 V302.90 M327.30 292.30 H333.30 M327.30 302.90 H333.30"/><path d="M330.30 292.81 L334.59 300.04 L326.01 300.04 Z" stroke-width="1"/></g>
<path d="M312 318.30 H319 C 325 318.30, 326.3 315.60, 330.30 313.00 C 334.3 310.40, 335.6 307.70, 341.6 307.70 H348.6" fill="none" stroke="#1274ba" stroke-width="1.3"/><g stroke="#1274ba" stroke-width="1.30" fill="none"><path d="M320.70 313.00 H339.90 M320.70 310.00 V316.00 M339.90 310.00 V316.00"/><path d="M330.30 307.70 V318.30 M327.30 307.70 H333.30 M327.30 318.30 H333.30"/><path d="M327.84 310.54 L332.76 315.46 M327.84 315.46 L332.76 310.54" stroke-width="1.3"/></g>
<g font-size="11.15" fill="#222">
<text x="352.6" y="239.0">dc + nd</text>
<text x="352.6" y="254.9">df + nd</text>
<text x="352.6" y="270.9">dc + df</text>
<text x="352.6" y="286.6">100% dc</text>
<text x="352.6" y="302.0">100% df</text>
<text x="352.6" y="317.4">100% nd</text>
</g>
<rect x="432.5" y="9.5" width="20" height="325.2" fill="url(#cb)" stroke="#333" stroke-opacity="0.55" stroke-width="0.9"/>
<g font-size="12.4" fill="#333333">
<text x="457.3" y="58.6">1.5</text>
<text x="457.3" y="131.1">1</text>
<text x="457.3" y="203.6">0.5</text>
<text x="457.3" y="276.1">0</text>
</g>
<path d="M452.5 54.5 H449.5 M452.5 126.5 H449.5 M452.5 199.5 H449.5 M452.5 271.5 H449.5 " stroke="#444" stroke-width="1" fill="none"/>
<g transform="translate(488 208.5) rotate(-90)" font-size="11.8" fill="#333333"><text x="0" y="0">&#197;<tspan dy="5" font-size="9.5"><tspan font-family="Liberation Serif, serif" font-style="italic" fill="#666" font-size="10.5">&#946;</tspan>,p</tspan><tspan dy="-5">(355,532)</tspan></text></g>
</svg>
</body></html>
